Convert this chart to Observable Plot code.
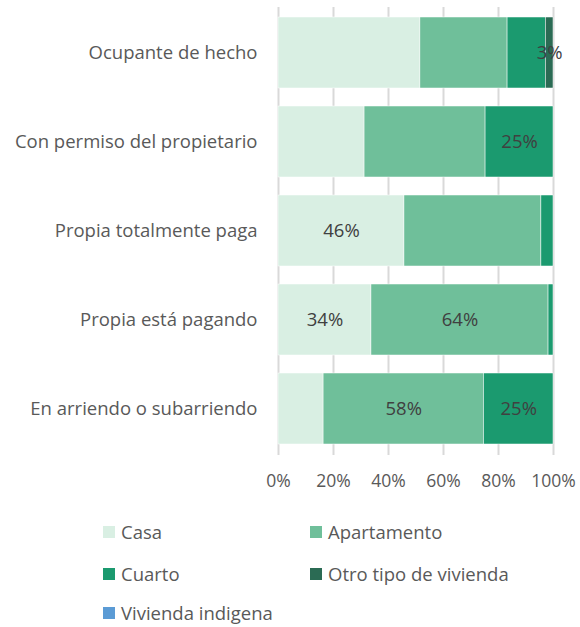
<!DOCTYPE html>
<html>
<head>
<meta charset="utf-8">
<script src="https://cdn.jsdelivr.net/npm/d3@7"></script>
<script src="https://cdn.jsdelivr.net/npm/@observablehq/plot@0.6"></script>
<style>
  html, body { margin: 0; padding: 0; background: #fff; }
  body { width: 580px; font-family: "Open Sans", sans-serif; }
  #legend { position: relative; height: 127px; }
  .item { position: absolute; display: flex; align-items: center; font-size: 18.5px; line-height: 22px; color: #595959; white-space: nowrap; }
  .sw { width: 12px; height: 12px; margin-right: 6px; }
</style>
</head>
<body>
<div id="chart"></div>
<div id="legend"></div>
<script>
const categories = ["Ocupante de hecho", "Con permiso del propietario", "Propia totalmente paga", "Propia está pagando", "En arriendo o subarriendo"];
const series = ["Casa", "Apartamento", "Cuarto", "Otro tipo de vivienda", "Vivienda indigena"];
const colors = ["#d9efe3", "#6fbf9a", "#1b9a6f", "#2b6b54", "#5b9bd5"];
const casa = [51.6, 31.3, 45.8, 33.8, 16.4];
const apartamento = [31.7, 44.0, 49.8, 64.4, 58.3];
const cuarto = [13.9, 24.7, 4.4, 1.8, 25.3];
const otro = [2.8, 0, 0, 0, 0];
const indigena = [0, 0, 0, 0, 0];
const xTicks = [0, 20, 40, 60, 80, 100];
// segments that carry a data label: [category index, series index]
const labelled = [[0, 3], [1, 2], [2, 0], [3, 0], [3, 1], [4, 1], [4, 2]];

const valuesBySeries = [casa, apartamento, cuarto, otro, indigena];
const rows = [];
series.forEach((s, si) => {
  categories.forEach((c, ci) => {
    rows.push({
      category: c, series: s, value: valuesBySeries[si][ci],
      label: labelled.some(([a, b]) => a === ci && b === si)
    });
  });
});

const W = 580, H = 500;
const chart = Plot.plot({
  width: W,
  height: H,
  marginLeft: 278,
  marginRight: 27,
  marginTop: 7,
  marginBottom: H - 455,
  style: { fontFamily: "Open Sans, sans-serif", fontSize: "18px", color: "#595959", background: "#fff" },
  x: { domain: [0, 100], ticks: xTicks, tickFormat: d => d + "%", label: null },
  y: { domain: categories, label: null, paddingInner: 0.2, paddingOuter: 0.1 },
  color: { domain: series, range: colors },
  marks: [
    Plot.gridX(xTicks, { stroke: "#d9d9d9", strokeOpacity: 1, strokeWidth: 2 }),
    Plot.barX(rows, Plot.stackX({ x: "value", y: "category", z: "series", fill: "series", order: series, stroke: "#fff", strokeWidth: 0.5 })),
    Plot.text(rows, Plot.stackX({
      x: "value", y: "category", z: "series", order: series,
      text: d => d.label ? Math.round(d.value) + "%" : null,
      fill: "#404040", fontSize: 18.5
    })),
    Plot.axisX(xTicks, { tickSize: 0, tickPadding: 19, tickFormat: d => d + "%", fill: "#595959", fontSize: 17.5 }),
    Plot.axisY({ tickSize: 0, tickPadding: 21, fill: "#595959", fontSize: 18.5 })
  ]
});
document.getElementById("chart").appendChild(chart);

const legend = document.getElementById("legend");
const pos = [[103, 532], [310, 532], [103, 574], [310, 574], [103, 613]];
series.forEach((s, i) => {
  const el = document.createElement("div");
  el.className = "item";
  el.style.left = pos[i][0] + "px";
  el.style.top = (pos[i][1] - H - 11) + "px";
  el.style.height = "22px";
  el.innerHTML = `<span class="sw" style="background:${colors[i]}"></span><span>${s}</span>`;
  legend.appendChild(el);
});
</script>
</body>
</html>
